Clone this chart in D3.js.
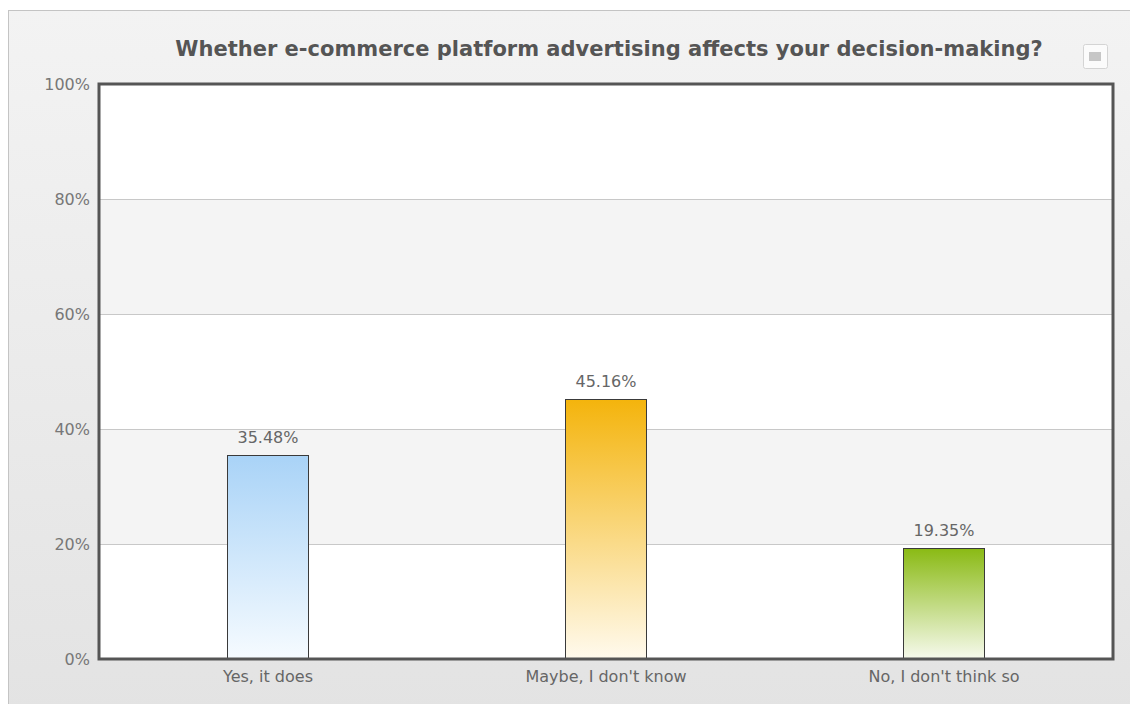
<!DOCTYPE html>
<html>
<head>
<meta charset="utf-8">
<script src="https://cdn.jsdelivr.net/npm/d3@7"></script>
<style>
  html, body { margin: 0; padding: 0; background: #ffffff; }
  svg { display: block; }
  text { font-family: "DejaVu Sans", Verdana, sans-serif; }
</style>
</head>
<body>
<svg id="chart" width="1130" height="704"></svg>
<script>
// Survey answers and their shares (percent)
const categories = ["Yes, it does", "Maybe, I don't know", "No, I don't think so"];
const values = [35.48, 45.16, 19.35];
const yTicks = [0, 20, 40, 60, 80, 100];
const titleText = "Whether e-commerce platform advertising affects your decision-making?";
// Gradient stops per bar: [top colour, bottom colour]
const barColors = [["#a9d3f7", "#f6fbff"], ["#f4b40c", "#fffaee"], ["#8aba14", "#f7faee"]];

const W = 1130, H = 704;
const margin = { left: 99, right: 17, top: 84, bottom: 45 };
const svg = d3.select("#chart");
const defs = svg.append("defs");

// Panel background gradient
const bg = defs.append("linearGradient").attr("id", "panelBg")
  .attr("x1", 0).attr("y1", 0).attr("x2", 0).attr("y2", 1);
bg.append("stop").attr("offset", "0%").attr("stop-color", "#f3f3f3");
bg.append("stop").attr("offset", "100%").attr("stop-color", "#e3e3e3");

svg.append("rect").attr("x", 8.5).attr("y", 10.5).attr("width", W).attr("height", H)
  .attr("fill", "url(#panelBg)").attr("stroke", "#c4c4c4").attr("stroke-width", 1);

barColors.forEach((c, i) => {
  const g = defs.append("linearGradient").attr("id", "barGrad" + i)
    .attr("x1", 0).attr("y1", 0).attr("x2", 0).attr("y2", 1);
  g.append("stop").attr("offset", "0%").attr("stop-color", c[0]);
  g.append("stop").attr("offset", "100%").attr("stop-color", c[1]);
});

const x0 = margin.left, x1 = W - margin.right;
const y0 = H - margin.bottom, y1 = margin.top;

const x = d3.scaleBand().domain(categories).range([x0, x1]).paddingInner(0).paddingOuter(0);
const y = d3.scaleLinear().domain([0, 100]).range([y0, y1]);

const labelFont = "16px";

// Plot background with alternating bands
svg.append("rect").attr("x", x0).attr("y", y1).attr("width", x1 - x0).attr("height", y0 - y1)
  .attr("fill", "#ffffff");
const bands = yTicks.slice(0, -1).map((t, i) => [t, yTicks[i + 1]]);
svg.append("g").selectAll("rect").data(bands.filter((d, i) => i % 2 === 1)).join("rect")
  .attr("x", x0).attr("width", x1 - x0)
  .attr("y", d => y(d[1])).attr("height", d => y(d[0]) - y(d[1]))
  .attr("fill", "#f4f4f4");

// Horizontal grid lines
svg.append("g").selectAll("line").data(yTicks.slice(1, -1)).join("line")
  .attr("x1", x0).attr("x2", x1)
  .attr("y1", d => Math.round(y(d)) + 0.5).attr("y2", d => Math.round(y(d)) + 0.5)
  .attr("stroke", "#c8c8c8").attr("stroke-width", 1);

// Y axis labels
const yAxis = d3.axisLeft(y).tickValues(yTicks).tickFormat(d => d + "%").tickSize(0).tickPadding(9);
const gy = svg.append("g").attr("transform", `translate(${x0},0)`).call(yAxis);
gy.select(".domain").remove();
gy.selectAll("text").attr("fill", "#777").style("font-size", labelFont)
  .style("font-family", "'DejaVu Sans', Verdana, sans-serif");

// X axis labels
const xAxis = d3.axisBottom(x).tickSize(0).tickPadding(12);
const gx = svg.append("g").attr("transform", `translate(0,${y0})`).call(xAxis);
gx.select(".domain").remove();
gx.selectAll("text").attr("fill", "#666").style("font-size", labelFont)
  .style("font-family", "'DejaVu Sans', Verdana, sans-serif");

// Bars
const barW = x.bandwidth() * 0.24;
const bars = svg.append("g");
bars.selectAll("rect").data(values).join("rect")
  .attr("x", (d, i) => Math.round(x(categories[i]) + x.bandwidth() / 2 - barW / 2) + 0.5)
  .attr("y", d => Math.round(y(d)) + 0.5)
  .attr("width", Math.round(barW))
  .attr("height", d => y0 - Math.round(y(d)))
  .attr("fill", (d, i) => `url(#barGrad${i})`)
  .attr("stroke", "#3a3a3a").attr("stroke-width", 1);

// Value labels
svg.append("g").selectAll("text").data(values).join("text")
  .attr("x", (d, i) => x(categories[i]) + x.bandwidth() / 2)
  .attr("y", d => y(d) - 12)
  .attr("text-anchor", "middle")
  .attr("fill", "#666").style("font-size", labelFont)
  .text(d => d.toFixed(2) + "%");

// Plot frame
svg.append("rect").attr("x", x0).attr("y", y1).attr("width", x1 - x0).attr("height", y0 - y1)
  .attr("fill", "none").attr("stroke", "#555").attr("stroke-width", 3);

// Title
svg.append("text").attr("x", 609).attr("y", 56).attr("text-anchor", "middle")
  .attr("fill", "#555").style("font-size", "21px").style("font-weight", "bold")
  .text(titleText);

// Menu button
svg.append("rect").attr("x", 1083.5).attr("y", 44.5).attr("width", 24).attr("height", 24)
  .attr("rx", 2).attr("fill", "#fbfbfb").attr("stroke", "#d4d4d4");
svg.append("rect").attr("x", 1089).attr("y", 52).attr("width", 12).attr("height", 9)
  .attr("fill", "#c6c6c6");
</script>
</body>
</html>
